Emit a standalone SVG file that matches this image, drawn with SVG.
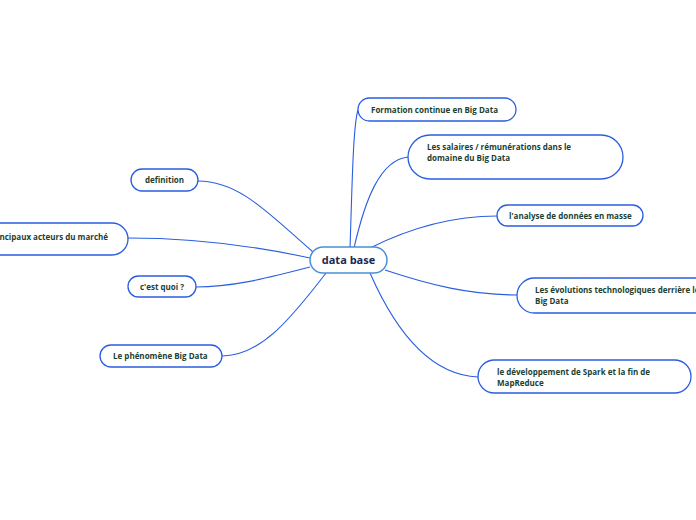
<svg xmlns="http://www.w3.org/2000/svg" width="696" height="520" viewBox="0 0 696 520">
<style>
.bg{fill:#ffffff}
.conn{fill:none;stroke:#2a5ee0;stroke-width:1.1}
.node{fill:#ffffff;stroke:#2a5ee0;stroke-width:1.3}
.center{fill:#ffffff;stroke:#4a90d9;stroke-width:1.5}
.t{font-family:"Open Sans","Noto Sans",sans-serif;font-size:8px;font-weight:700;fill:#1c3f33}
.ct{font-family:"Open Sans","Noto Sans",sans-serif;font-size:11px;font-weight:700;fill:#1b2a4e}
</style>
<rect class="bg" x="0" y="0" width="696" height="520"/>
<g id="connectors">
<path class="conn" d="M350,249 C352,190 353,125 358,110"/>
<path class="conn" d="M354,248 C365,200 380,160 408,157"/>
<path class="conn" d="M370,248 C410,228 450,216 497,216"/>
<path class="conn" d="M385,270 C430,285 470,295 518,295"/>
<path class="conn" d="M370,273 C395,330 430,375 478,377"/>
<path class="conn" d="M313,252 C270,215 240,181 198,181"/>
<path class="conn" d="M310,258 C250,245 190,238 128,238"/>
<path class="conn" d="M310,267 C260,280 230,287 196,287"/>
<path class="conn" d="M326,273 C290,320 260,356 222,356"/>
</g>
<g id="center-node">
<rect class="center" x="310" y="247" width="77" height="26" rx="13"/>
<text class="ct" x="348.5" y="264" text-anchor="middle">data base</text>
</g>
<g id="node-formation">
<rect class="node" x="358" y="98" width="158" height="23" rx="11.5"/>
<text class="t" x="371" y="112.5">Formation continue en Big Data</text>
</g>
<g id="node-salaires">
<rect class="node" x="408" y="135" width="215" height="44" rx="22"/>
<text class="t" x="427" y="150">Les salaires / rémunérations dans le</text>
<text class="t" x="427" y="161">domaine du Big Data</text>
</g>
<g id="node-analyse">
<rect class="node" x="497" y="205" width="146" height="21" rx="10.5"/>
<text class="t" x="509" y="218.5">l'analyse de données en masse</text>
</g>
<g id="node-evolutions">
<rect class="node" x="517" y="278" width="230" height="35" rx="17.5"/>
<text class="t" x="535" y="292.5">Les évolutions technologiques derrière le</text>
<text class="t" x="535" y="303.5">Big Data</text>
</g>
<g id="node-developpement">
<rect class="node" x="478" y="360" width="213" height="33" rx="16.5"/>
<text class="t" x="497" y="374.5">le développement de Spark et la fin de</text>
<text class="t" x="497" y="385.5">MapReduce</text>
</g>
<g id="node-definition">
<rect class="node" x="131" y="169" width="67" height="22" rx="11"/>
<text class="t" x="164.5" y="183" text-anchor="middle">definition</text>
</g>
<g id="node-principaux">
<rect class="node" x="-45" y="223" width="173" height="32" rx="16"/>
<text class="t" x="108" y="239.5" text-anchor="end">Les principaux acteurs du marché</text>
</g>
<g id="node-cestquoi">
<rect class="node" x="128" y="276" width="68" height="21" rx="10.5"/>
<text class="t" x="162" y="289.5" text-anchor="middle">c'est quoi ?</text>
</g>
<g id="node-phenomene">
<rect class="node" x="100" y="345" width="122" height="22" rx="11"/>
<text class="t" x="113" y="359">Le phénomène Big Data</text>
</g>
</svg>
